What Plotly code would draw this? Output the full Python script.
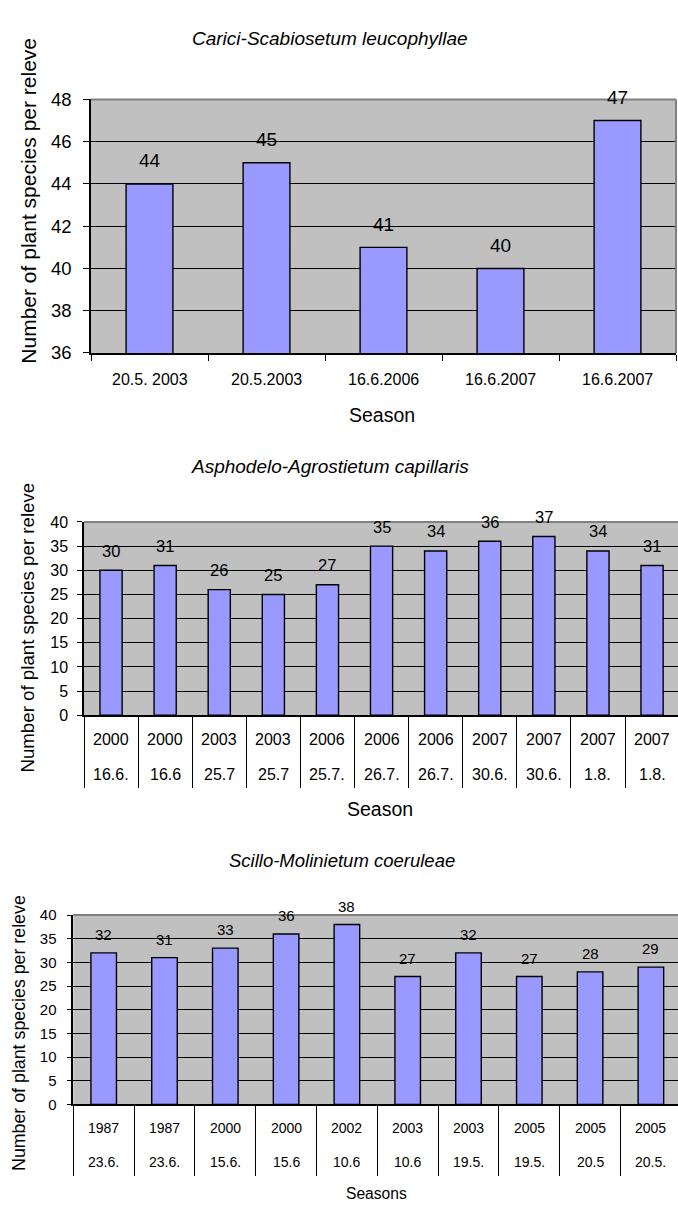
import plotly.graph_objects as go

W, H = 678, 1210
FONT = "Liberation Sans, Arial, sans-serif"
BAR_COLOR = "#9999FF"
PLOT_BG = "#C0C0C0"
FRAME = "#808080"

# ---- data -------------------------------------------------------------
carici_title = "Carici-Scabiosetum leucophyllae"
carici_dates = ["20.5. 2003", "20.5.2003", "16.6.2006", "16.6.2007", "16.6.2007"]
carici_species = [44, 45, 41, 40, 47]

aspho_title = "Asphodelo-Agrostietum capillaris"
aspho_years = ["2000", "2000", "2003", "2003", "2006", "2006", "2006",
               "2007", "2007", "2007", "2007"]
aspho_days = ["16.6.", "16.6", "25.7", "25.7", "25.7.", "26.7.", "26.7.",
              "30.6.", "30.6.", "1.8.", "1.8."]
aspho_species = [30, 31, 26, 25, 27, 35, 34, 36, 37, 34, 31]

scillo_title = "Scillo-Molinietum coeruleae"
scillo_years = ["1987", "1987", "2000", "2000", "2002", "2003", "2003",
                "2005", "2005", "2005"]
scillo_days = ["23.6.", "23.6.", "15.6.", "15.6", "10.6", "10.6", "19.5.",
               "19.5.", "20.5", "20.5."]
scillo_species = [32, 31, 33, 36, 38, 27, 32, 27, 28, 29]

y_title = "Number of plant species per releve"


def px_x(x):
    return x / W


def px_y(y):
    return 1 - y / H


# ---- panel geometry (pixels) -------------------------------------------
panels = [
    dict(key="", values=carici_species, rows=[carici_dates], title=carici_title,
         left=91, right=676, top=90, bottom=348, cat_w=117.0,
         yrange=[36, 48], dtick=2, bar_w=0.40,
         ytick_size=18.5, ytick_len=6, ytick_off=8,
         val_size=19, val_shift=23,
         row_size=16, row_y=[375], sep_len=6,
         title_xy=(330, 27.5), title_size=19,
         ytitle_xy=(29, 193), ytitle_size=21,
         xlabel="Season", xlabel_xy=(382, 411.5), xlabel_size=19.5,
         right_frame=True),
    dict(key="2", values=aspho_species, rows=[aspho_years, aspho_days], title=aspho_title,
         left=84, right=678, top=520, bottom=716.7, cat_w=54.1,
         yrange=[0, 40], dtick=5, bar_w=0.41,
         ytick_size=16, ytick_len=5, ytick_off=6,
         val_size=16.5, val_shift=19.5,
         row_size=16, row_y=[741.7, 776.7], sep_len=71,
         title_xy=(330, 463.5), title_size=19,
         ytitle_xy=(27.5, 628), ytitle_size=18.7,
         xlabel="Season", xlabel_xy=(380, 811.7), xlabel_size=19.5,
         right_frame=False),
    dict(key="3", values=scillo_species, rows=[scillo_years, scillo_days], title=scillo_title,
         left=73.3, right=678, top=920, bottom=1112.7, cat_w=60.8,
         yrange=[0, 40], dtick=5, bar_w=0.42,
         ytick_size=15, ytick_len=5, ytick_off=7,
         val_size=15, val_shift=18.5,
         row_size=14, row_y=[1136.7, 1171.7], sep_len=70,
         title_xy=(342, 865), title_size=18.5,
         ytitle_xy=(18.3, 1039.7), ytitle_size=17.8,
         xlabel="Seasons", xlabel_xy=(376, 1203), xlabel_size=15.6,
         right_frame=False),
]

fig = go.Figure()
layout = dict(
    width=W, height=H,
    margin=dict(l=0, r=0, t=0, b=0),
    paper_bgcolor="white",
    plot_bgcolor=PLOT_BG,
    showlegend=False,
    font=dict(family=FONT, color="black"),
)
annotations = []
shapes = []


def text_note(x, y, text, size, xref="paper", yref="paper", **kw):
    return dict(x=x, y=y, xref=xref, yref=yref, text=text, showarrow=False,
                xanchor="center", yanchor="middle",
                font=dict(size=size, family=FONT, color="black"), **kw)


for p in panels:
    k = p["key"]
    n = len(p["values"])
    idx = list(range(n))
    xr = [-0.5, -0.5 + (p["right"] - p["left"]) / p["cat_w"]]
    xdom = [px_x(p["left"]), px_x(p["right"])]
    ydom = [px_y(p["bottom"]), px_y(p["top"])]
    xname, yname = "x" + k, "y" + k

    fig.add_trace(go.Bar(
        x=idx, y=p["values"], xaxis=xname, yaxis=yname,
        width=p["bar_w"], marker=dict(color=BAR_COLOR, line=dict(color="black", width=1.4)),
        hoverinfo="skip",
    ))

    # category axis: boundary ticks double as table separators
    layout["xaxis" + k] = dict(
        domain=xdom, range=xr, anchor=yname,
        tickmode="array", tickvals=[i - 0.5 for i in range(n + 1)],
        ticks="outside", ticklen=p["sep_len"], tickcolor="black", tickwidth=1.3,
        showticklabels=False, showline=True, linecolor="black", linewidth=1.5,
        showgrid=False, zeroline=False, fixedrange=True,
    )
    layout["yaxis" + k] = dict(
        domain=ydom, range=p["yrange"], anchor=xname,
        tickmode="linear", tick0=p["yrange"][0], dtick=p["dtick"],
        ticks="outside", ticklen=p["ytick_len"], tickcolor="black", tickwidth=1.3,
        tickfont=dict(size=p["ytick_size"], family=FONT, color="black"),
        ticklabelstandoff=p["ytick_off"],
        showline=True, linecolor="black", linewidth=1.5,
        showgrid=True, gridcolor="black", gridwidth=1.2,
        zeroline=False, fixedrange=True,
    )

    # category label rows (one cell per bar)
    for labels, ry in zip(p["rows"], p["row_y"]):
        for i, lab in enumerate(labels):
            annotations.append(text_note(i, px_y(ry), lab, p["row_size"], xref=xname))

    # value labels above bars
    for i, v in enumerate(p["values"]):
        annotations.append(text_note(i, v, str(v), p["val_size"], xref=xname, yref=yname,
                                     yshift=p["val_shift"]))

    # chart title, y-axis title and x-axis title
    tx, ty = p["title_xy"]
    annotations.append(text_note(px_x(tx), px_y(ty), "<i>%s</i>" % p["title"], p["title_size"]))
    ax_, ay_ = p["ytitle_xy"]
    annotations.append(text_note(px_x(ax_), px_y(ay_), y_title, p["ytitle_size"], textangle=-90))
    lx, ly = p["xlabel_xy"]
    annotations.append(text_note(px_x(lx), px_y(ly), p["xlabel"], p["xlabel_size"]))

    # plot-area frame (top, and right where visible)
    shapes.append(dict(type="line", xref=xname + " domain", yref=yname + " domain",
                       x0=0, x1=1, y0=1, y1=1, line=dict(color=FRAME, width=2)))
    if p["right_frame"]:
        shapes.append(dict(type="line", xref=xname + " domain", yref=yname + " domain",
                           x0=1, x1=1, y0=0, y1=1, line=dict(color=FRAME, width=2)))

layout["annotations"] = annotations
layout["shapes"] = shapes
fig.update_layout(**layout)

fig.write_html(
    "out.html",
    config={"displayModeBar": False},
    post_script="document.body.style.margin='0';document.body.style.overflow='hidden';",
)
